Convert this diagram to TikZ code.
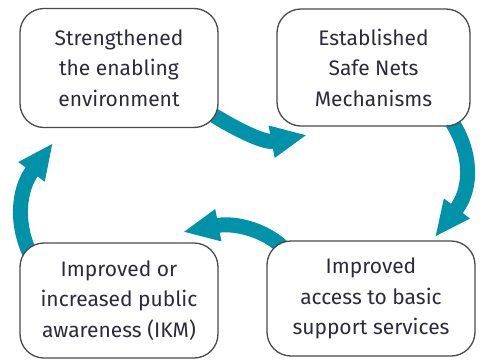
\documentclass[tikz,border=0pt]{standalone}
\usepackage{fontspec}
\setmainfont{Fira Sans}
\usetikzlibrary{arrows.meta}
\definecolor{cycleteal}{HTML}{0092A8}
\definecolor{boxline}{HTML}{4A4A4A}
\definecolor{boxtext}{HTML}{2B2B3B}
\begin{document}
\begin{tikzpicture}[x=1pt,y=-1pt,
  stagebox/.style={draw=boxline,line width=1.3pt,fill=white,rounded corners=24pt,
    align=center,text=boxtext,font=\fontsize{21pt}{30.5pt}\selectfont,inner sep=0pt},
  cyclearrow/.style={draw=cycleteal,line width=15pt,
    -{Triangle[length=36pt,width=30pt]}}]
\useasboundingbox (0,0) rectangle (480,362);
% curved arrows, drawn first so the boxes sit on top of their tails
\coordinate (a1s) at (205,110);
\coordinate (a1e) at (307,135);
\coordinate (a2s) at (447,115);
\coordinate (a2e) at (435,237);
\coordinate (a3s) at (290,255);
\coordinate (a3e) at (183,232);
\coordinate (a4s) at (32,258);
\coordinate (a4e) at (53,143);
\draw[cyclearrow] (a1s) .. controls (240,132) and (265,143) .. (a1e);
\draw[cyclearrow] (a2s) .. controls (470,145) and (475,185) .. (a2e);
\draw[cyclearrow] (a3s) .. controls (270,230) and (235,222) .. (a3e);
\draw[cyclearrow] (a4s) .. controls (15,225) and (18,190) .. (a4e);
% the four stages
\node[stagebox,minimum width=198pt,minimum height=119pt] (enable) at (119,68)
  {Strengthened\\the enabling\\environment};
\node[stagebox,minimum width=193pt,minimum height=117pt] (safenets) at (373.5,67.5)
  {Established\\Safe Nets\\Mechanisms};
\node[stagebox,minimum width=208pt,minimum height=115pt] (access) at (371,298.5)
  {Improved\\access to basic\\support services};
\node[stagebox,minimum width=198pt,minimum height=115pt] (aware) at (119,300.5)
  {Improved or\\increased public\\awareness (IKM)};
\end{tikzpicture}
\end{document}
